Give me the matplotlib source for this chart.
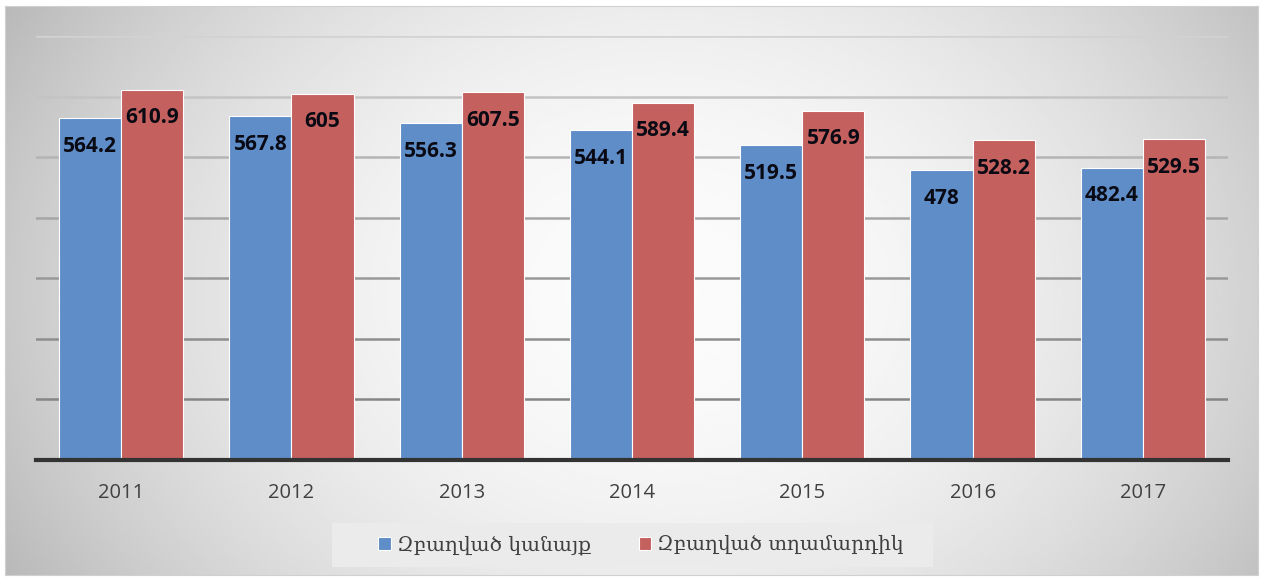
import numpy as np
import matplotlib
matplotlib.use('Agg')
import matplotlib.pyplot as plt
from matplotlib.patches import Rectangle

years = ['2011', '2012', '2013', '2014', '2015', '2016', '2017']
women = [564.2, 567.8, 556.3, 544.1, 519.5, 478, 482.4]
men = [610.9, 605, 607.5, 589.4, 576.9, 528.2, 529.5]
women_labels = ['564.2', '567.8', '556.3', '544.1', '519.5', '478', '482.4']
men_labels = ['610.9', '605', '607.5', '589.4', '576.9', '528.2', '529.5']
names = ['Զբաղված կանայք', 'Զբաղված տղամարդիկ']

blue = '#5F8DC7'
red = '#C4605E'
W, H = 1262, 580

my_dpi = 100
fig = plt.figure(figsize=(W / my_dpi, H / my_dpi), dpi=my_dpi)
fig.patch.set_facecolor('white')

# gradient background box
bg = fig.add_axes([5 / W, 5 / H, 1253 / W, 569 / H])
xx = np.linspace(-1, 1, 400)
yy = np.linspace(-1, 1, 200)
X, Y = np.meshgrid(xx, yy)
R = np.sqrt(((X - 0.05) * 0.95) ** 2 + (Y * 0.55) ** 2)
shade = 0.985 - 0.2 * np.clip(R, 0, 1.2) ** 2
bg.imshow(shade, cmap='gray', vmin=0, vmax=1, aspect='auto', extent=[0, 1, 0, 1])
bg.set_xticks([])
bg.set_yticks([])
for s in bg.spines.values():
    s.set_color('#d0d0d0')

ax = fig.add_axes([36 / W, 1 - 460 / H, 1192 / W, 424 / H])
ax.patch.set_alpha(0)
x = np.arange(len(years))
w = 0.365
b1 = ax.bar(x - w / 2, women, w, color=blue, edgecolor='white', linewidth=0.8, zorder=3, label=names[0])
b2 = ax.bar(x + w / 2, men, w, color=red, edgecolor='white', linewidth=0.8, zorder=3, label=names[1])

ax.set_xlim(-0.5, len(years) - 0.5)
ax.set_ylim(0, 700)
grid_vals = [100, 200, 300, 400, 500, 600, 700]
grid_cols = ['#858585', '#8e8e8e', '#999999', '#a6a6a6', '#b4b4b4', '#c4c4c4', '#d2d2d2']
for gv, gc in zip(grid_vals, grid_cols):
    ax.axhline(gv, color=gc, linewidth=1.8, zorder=0)
ax.set_yticks([])
ax.tick_params(axis='x', bottom=False, pad=13)
ax.set_xticks(x)
ax.set_xticklabels(years, fontsize=14.5, color='#404040', family=['Open Sans', 'DejaVu Sans'])
for s in ['top', 'right', 'left']:
    ax.spines[s].set_visible(False)
ax.spines['bottom'].set_color('#333333')
ax.spines['bottom'].set_linewidth(3)
ax.spines['bottom'].set_zorder(4)

for bars, labs in ((b1, women_labels), (b2, men_labels)):
    for bar, lab in zip(bars, labs):
        ax.annotate(lab, (bar.get_x() + bar.get_width() / 2, bar.get_height()),
                    xytext=(0, -28), textcoords='offset pixels', ha='center', va='center',
                    fontsize=15, fontweight='bold', color='#0a0a14', family=['Open Sans', 'DejaVu Sans'],
                    zorder=5)

# legend box
fig.patches.append(Rectangle((332 / W, 1 - 567 / H), 601 / W, 44 / H, transform=fig.transFigure,
                             facecolor='#ebebeb', edgecolor='none', zorder=1))
leg = fig.legend(handles=[b1, b2], labels=names, loc='center', bbox_to_anchor=(641 / W, 1 - 545 / H),
                 ncol=2, frameon=False,
                 handlelength=0.6, handleheight=0.6, handletextpad=0.3, columnspacing=2.4,
                 prop={'family': ['DejaVu Serif', 'DejaVu Sans'], 'size': 14.5})
for t in leg.get_texts():
    t.set_color('#404040')

plt.savefig('out.png', dpi=my_dpi)
